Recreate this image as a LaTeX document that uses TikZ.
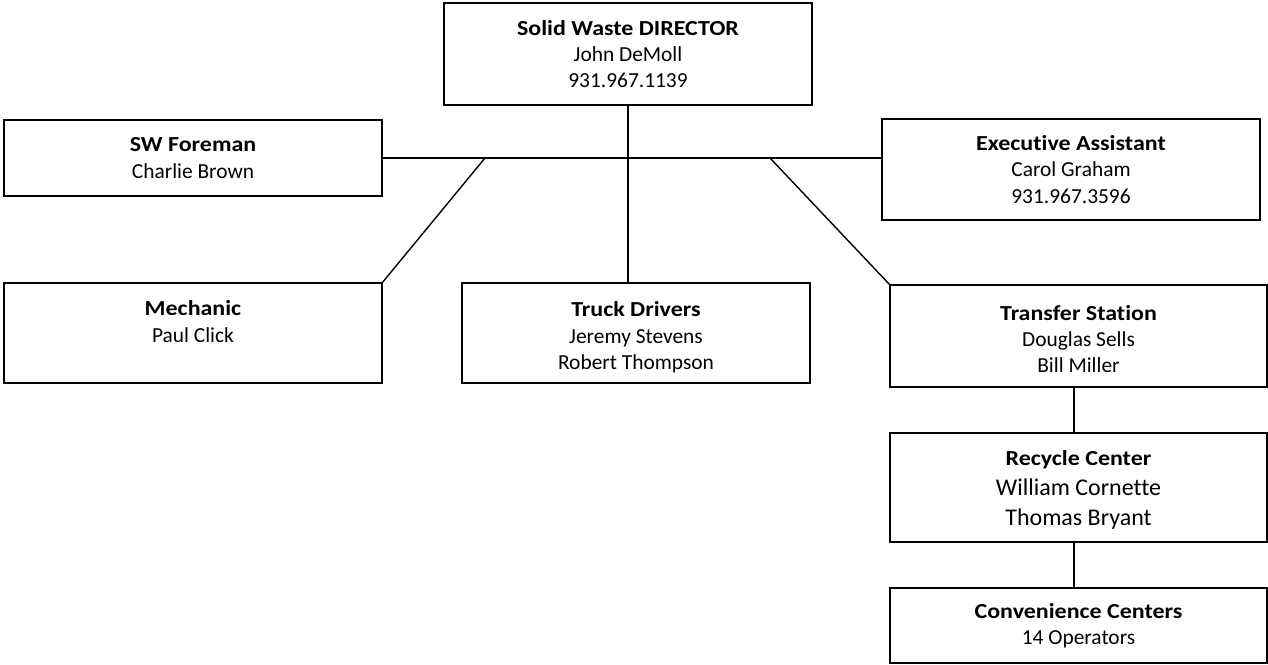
\documentclass[tikz,border=0pt]{standalone}
\usepackage{fontspec}
\setmainfont{Carlito}[Ligatures=NoCommon, BoldFeatures={FakeStretch=1.12}]
\newcommand{\bignames}{\fontsize{12}{14.5}\selectfont}
\newcommand{\lift}[1]{\rule{0pt}{#1}}

\begin{document}
\begin{tikzpicture}[x=0.5pt, y=-0.5pt, line width=0.7pt,
    font=\fontsize{10.7}{13.2}\selectfont]
  \tikzstyle{unit} = [draw, rectangle, line width=1pt, align=center, inner sep=0pt, outer sep=0pt]
  \useasboundingbox (0,0) rectangle (1268,664);
  \node [unit, minimum width=184pt, minimum height=51pt] (director) at (628,54)
    {\textbf{Solid Waste DIRECTOR}\\John DeMoll\\931.967.1139};
  \node [unit, minimum width=189pt, minimum height=38pt] (foreman) at (193,158)
    {\textbf{SW Foreman}\\Charlie Brown};
  \node [unit, minimum width=189pt, minimum height=50.5pt] (assistant) at (1071,169.5)
    {\textbf{Executive Assistant}\\Carol Graham\\931.967.3596};
  \node [unit, minimum width=189pt, minimum height=50pt] (mechanic) at (193,333)
    {\lift{13pt}\textbf{Mechanic}\\Paul Click\\\strut};
  \node [unit, minimum width=174pt, minimum height=50pt] (drivers) at (636,333)
    {\lift{12pt}\textbf{Truck Drivers}\\Jeremy Stevens\\Robert Thompson};
  \node [unit, minimum width=188.5pt, minimum height=51pt] (transfer) at (1078.5,336)
    {\lift{10.5pt}\textbf{Transfer Station}\\Douglas Sells\\Bill Miller};
  \node [unit, minimum width=188.5pt, minimum height=54.5pt] (recycle) at (1078.5,487.5)
    {\lift{10pt}\textbf{Recycle Center}\\[2pt]\bignames William Cornette\\[2pt]\bignames Thomas Bryant};
  \node [unit, minimum width=188.5pt, minimum height=37.5pt] (convenience) at (1078.5,625.5)
    {\textbf{Convenience Centers}\\14 Operators};
  \coordinate (leftjoin) at (485,158);
  \coordinate (rightjoin) at (770,158);
  \coordinate (chain) at (1074,0);
  \draw (foreman.east) -- (foreman.east -| assistant.west);
  \draw (director.south) -- (director.south |- drivers.north);
  \draw (leftjoin) -- (mechanic.north east);
  \draw (rightjoin) -- (transfer.north west);
  \draw (chain |- transfer.south) -- (chain |- recycle.north);
  \draw (chain |- recycle.south) -- (chain |- convenience.north);
\end{tikzpicture}
\end{document}
